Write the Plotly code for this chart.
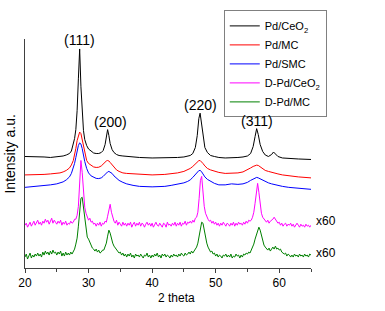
import plotly.graph_objects as go

# ---------------- data (intensity in arbitrary units) ----------------
# smooth patterns: shared 2-theta sampling
smooth_2theta = [20, 21, 22, 23, 24, 25, 25.5, 26, 26.5, 27, 27.3, 27.6, 27.8, 28.0, 28.2, 28.4, 28.6, 28.8,
                 29.0, 29.2, 29.4, 29.7, 30.0, 30.4, 30.8, 31.2, 31.6, 32.0, 32.3, 32.6, 32.8, 33.0, 33.2, 33.4,
                 33.7, 34.0, 34.4, 34.8, 35.4, 36, 37, 38, 40, 42, 43, 44, 45, 45.6, 46.0, 46.4, 46.8, 47.1,
                 47.35, 47.55, 47.75, 48.0, 48.3, 48.7, 49.2, 49.8, 50.5, 51.5, 52.5, 53.5, 54.3, 55.0, 55.5,
                 55.9, 56.2, 56.45, 56.7, 57.0, 57.4, 57.8, 58.3, 58.8, 59.1, 59.4, 59.8, 60.5, 61.5, 63, 65]

pd_ceo2 = [112, 112, 111.5, 111.5, 111, 111.5, 112, 112.5, 113.5, 115, 117.5, 125, 130, 139, 158, 190, 220, 182,
           152, 138, 129, 123, 119.5, 117, 115.5, 115, 115, 116, 118, 124, 132, 139, 133, 125,
           119, 116, 114, 113, 112.5, 112, 111.5, 111, 110.5, 110.5, 110.5, 111, 111.5, 112, 113, 115, 121, 133,
           150, 155.5, 146, 131, 121, 116, 113, 112, 111, 110.5, 110.5, 111, 111.5, 112.5, 115,
           122, 132, 140, 134, 124, 117, 113.5, 112, 114, 116.5, 114.5, 112, 110.5, 110, 109.5, 109]

pd_mc = [93.5, 93.5, 93.5, 94, 94.5, 95, 95.5, 96.5, 98, 100.5, 103.5, 108, 113, 120, 128, 134, 136.5, 135,
         129, 121, 114, 108, 105, 103, 101.5, 101, 101.2, 102.5, 104.5, 106.5, 107.5, 108, 107.5, 106,
         103.5, 101, 98.5, 97, 95.5, 95, 94.5, 94, 93.5, 94, 94.5, 95.5, 97, 98.5, 100, 102, 104.5, 106.5,
         107.8, 108, 107, 105, 102.5, 100, 98.5, 97, 96, 95, 95, 95.5, 96.5, 98.5, 100.5,
         102, 103, 103.3, 103, 101.5, 99.5, 98, 97, 96, 95.5, 95, 94.5, 93.5, 92.5, 91.5, 90.5]

pd_smc = [81, 81.5, 82, 82.5, 83.5, 84.5, 85.5, 86.5, 88.5, 91.5, 95, 100, 105, 111, 118, 123, 125.7, 124.5,
          120, 113, 107, 100, 95.5, 92.5, 91, 90, 89.8, 90.5, 92, 94, 95.5, 96.5, 97, 96.5,
          95, 92.5, 90, 88, 86, 84.5, 83, 82, 81.5, 82, 83, 84, 85.5, 87, 88.5, 91, 94, 96.5,
          97.8, 98, 97, 94.5, 91.5, 89, 87, 85, 83.5, 83.5, 84.5, 84, 84.5, 86, 88,
          89.5, 90.5, 91, 90.5, 89.5, 88, 86.5, 85.5, 84.5, 84, 83.5, 83, 82, 81, 80, 79]

# noisy patterns: 2-theta from 20 to 65, step 0.2
noisy_2theta = [round(20 + 0.2 * i, 1) for i in range(226)]

d_pd_ceo2 = [
    43, 45, 41, 44, 46,   42, 45, 47, 43, 45,   48, 44, 46, 43, 47,   45, 49, 46, 48, 44,
    47, 50, 45, 48, 46,   44, 47, 45, 48, 43,   46, 44, 47, 43, 45,   44, 47, 45, 46, 49,
    49, 53, 62, 82, 108,  96, 76, 61, 55, 52,   48, 50, 46, 47, 44,   45, 42, 45, 43, 46,
    42, 45, 44, 47, 46,   52, 57, 64, 56, 50,   47, 45, 48, 43, 46,   44, 42, 46, 43, 45,
    42, 45, 43, 46, 41,   44, 46, 42, 45, 43,   46, 42, 45, 44, 41,   44, 46, 43, 45, 42,
    45, 41, 44, 46, 43,   42, 45, 43, 41, 45,   44, 41, 46, 43, 44,   42, 45, 43, 46, 42,
    45, 43, 46, 42, 45,   44, 47, 43, 46, 45,   47, 45, 48, 46, 50,   51, 56, 70, 88, 92,
    76, 62, 55, 51, 49,   47, 48, 45, 47, 44,   46, 43, 45, 42, 45,   43, 46, 44, 42, 45,
    44, 42, 45, 43, 46,   42, 45, 43, 46, 44,   45, 43, 46, 44, 47,   45, 48, 47, 48, 51,
    56, 65, 76, 85, 76,   64, 55, 51, 49, 47,   46, 48, 45, 47, 48,   49, 51, 49, 47, 45,
    46, 43, 45, 42, 44,   45, 42, 44, 43, 45,   42, 44, 41, 43, 45,   43, 41, 44, 42, 43,
    41, 44, 42, 43, 41,   43]

d_pd_mc = [
    11, 14, 9, 12, 15,    10, 13, 11, 14, 12,   15, 12, 14, 11, 16,   13, 17, 14, 16, 13,
    17, 14, 18, 15, 16,   13, 16, 14, 17, 12,   15, 12, 16, 13, 15,   13, 16, 14, 17, 19,
    24, 30, 42, 58, 70,   71, 60, 47, 37, 31,   29, 26, 24, 20, 19,   17, 19, 16, 18, 15,
    16, 18, 18, 21, 25,   32, 38, 35, 29, 25,   22, 20, 18, 17, 15,   16, 13, 15, 12, 14,
    11, 14, 12, 15, 11,   13, 10, 14, 12, 13,   11, 14, 12, 10, 13,   12, 15, 11, 13, 10,
    13, 11, 14, 12, 15,   11, 13, 10, 14, 12,   14, 11, 13, 12, 10,   13, 11, 14, 12, 13,
    11, 14, 12, 15, 13,   12, 15, 13, 14, 16,   14, 17, 15, 17, 19,   21, 25, 32, 40, 46,
    45, 38, 30, 25, 21,   19, 16, 17, 14, 15,   12, 14, 11, 13, 12,   10, 13, 12, 14, 11,
    13, 11, 14, 10, 12,   11, 14, 12, 13, 10,   13, 11, 14, 13, 15,   14, 16, 15, 18, 21,
    24, 29, 34, 39, 41,   38, 32, 27, 23, 21,   19, 18, 20, 17, 19,   21, 19, 22, 19, 20,
    18, 19, 16, 15, 14,   15, 12, 14, 13, 11,   13, 11, 14, 12, 13,   11, 14, 12, 13, 11,
    14, 12, 13, 11, 14,   13]

series_names = ["Pd/CeO<sub>2</sub>", "Pd/MC", "Pd/SMC", "D-Pd/CeO<sub>2</sub>", "D-Pd/MC"]
series_colors = ["#000000", "#ff0000", "#0000ff", "#ff00ff", "#008000"]

peak_labels = ["(111)", "(200)", "(220)", "(311)"]
peak_label_x = [28.5, 33.4, 47.55, 56.5]
peak_label_y = [229, 147, 164, 148]

scale_labels = ["x60", "x60"]
scale_label_y = [47, 15]

x_tick_values = [20, 30, 40, 50, 60]

assert len(smooth_2theta) == len(pd_ceo2) == len(pd_mc) == len(pd_smc)
assert len(noisy_2theta) == len(d_pd_ceo2) == len(d_pd_mc)

FONT = "Liberation Sans, Arial, sans-serif"
X_RANGE = [20, 65]
Y_RANGE = [0, 230]

fig = go.Figure()
ys = [pd_ceo2, pd_mc, pd_smc, d_pd_ceo2, d_pd_mc]
xs = [smooth_2theta, smooth_2theta, smooth_2theta, noisy_2theta, noisy_2theta]
for name, color, x, y in zip(series_names, series_colors, xs, ys):
    fig.add_trace(go.Scatter(x=x, y=y, mode="lines", name=name,
                             line=dict(color=color, width=1)))

for t, x, y in zip(peak_labels, peak_label_x, peak_label_y):
    fig.add_annotation(x=x, y=y, xref="x", yref="y", text=t, showarrow=False,
                       xanchor="center", yanchor="middle",
                       font=dict(family=FONT, size=14, color="#000000"))

# "x60" scale marks sit just right of the plot area (paper coordinates)
for t, y in zip(scale_labels, scale_label_y):
    fig.add_annotation(x=1.012, y=(y - Y_RANGE[0]) / (Y_RANGE[1] - Y_RANGE[0]),
                       xref="paper", yref="paper", text=t, showarrow=False,
                       xanchor="left", yanchor="middle",
                       font=dict(family=FONT, size=12, color="#000000"))

fig.add_annotation(x=0.531, y=-0.13, xref="paper", yref="paper", text="2 theta",
                   showarrow=False, xanchor="center", yanchor="middle",
                   font=dict(family=FONT, size=12, color="#000000"))
fig.add_annotation(x=-0.052, y=0.496, xref="paper", yref="paper", text="Intensity a.u.",
                   showarrow=False, xanchor="center", yanchor="middle", textangle=-90,
                   font=dict(family=FONT, size=14, color="#000000"))

fig.update_layout(
    width=385, height=311,
    margin=dict(l=25, r=74, t=38, b=43),
    paper_bgcolor="white", plot_bgcolor="white",
    font=dict(family=FONT, size=12, color="#000000"),
    showlegend=True,
    legend=dict(x=0.695, y=1.12, xanchor="left", yanchor="top",
                bordercolor="#808080", borderwidth=1, bgcolor="white",
                tracegroupgap=0, itemwidth=30,
                font=dict(family=FONT, size=11, color="#000000")),
    xaxis=dict(range=X_RANGE, showgrid=False, zeroline=False,
               showline=True, linecolor="#404040", linewidth=1,
               ticks="outside", ticklen=4, tickcolor="#404040",
               tickvals=x_tick_values,
               minor=dict(dtick=5, tick0=20, ticks="outside", ticklen=3, tickcolor="#404040"),
               tickfont=dict(family=FONT, size=12, color="#000000")),
    yaxis=dict(range=Y_RANGE, showgrid=False, zeroline=False,
               showline=True, linecolor="#404040", linewidth=1,
               showticklabels=False, ticks=""),
)

fig.write_html("out.html")
